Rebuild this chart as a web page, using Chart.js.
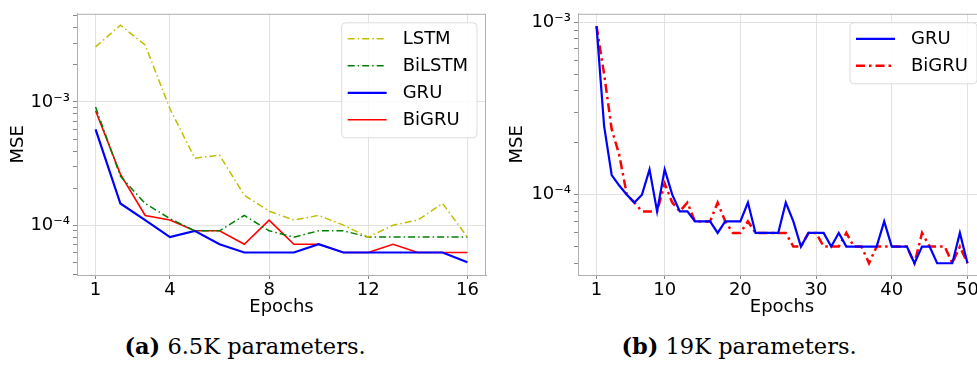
<!DOCTYPE html>
<html>
<head>
<meta charset="UTF-8">
<title>MSE per epoch</title>
<script src="https://cdn.jsdelivr.net/npm/chart.js"></script>
<style>
	body {
		margin: 0;
		width: 977px;
		height: 367px;
		overflow: hidden;
		position: relative;
		background: #fff;
	}

	.plot {
		position: absolute;
		top: 0;
	}

	#plotA { left: 0; }
	#plotB { left: 490px; }

	.caption {
		position: absolute;
		top: 333px;
		width: 400px;
		text-align: center;
		font-family: 'DejaVu Serif', serif;
		font-size: 22.5px;
		line-height: 26px;
		color: #000;
	}
</style>
</head>
<body>

<div class="plot" id="plotA"><canvas id="chartA" width="490" height="320"></canvas></div>
<div class="plot" id="plotB"><canvas id="chartB" width="500" height="320"></canvas></div>
<div class="caption" style="left:45px"><b>(a)</b> 6.5K parameters.</div>
<div class="caption" style="left:539px"><b>(b)</b> 19K parameters.</div>

<script>
// (a) 6.5K parameters
var epochsA = [1, 2, 3, 4, 5, 6, 7, 8, 9, 10, 11, 12, 13, 14, 15, 16];
var lstmA = [2.8e-3, 4.2e-3, 2.9e-3, 8.8e-4, 3.5e-4, 3.7e-4, 1.75e-4, 1.3e-4, 1.1e-4, 1.2e-4, 1.0e-4, 8e-5, 1.0e-4, 1.1e-4, 1.5e-4, 8e-5];
var bilstmA = [9.1e-4, 2.5e-4, 1.5e-4, 1.13e-4, 9e-5, 9e-5, 1.2e-4, 9e-5, 8e-5, 9e-5, 9e-5, 8e-5, 8e-5, 8e-5, 8e-5, 8e-5];
var gruA = [6e-4, 1.5e-4, 1.1e-4, 8e-5, 9e-5, 7e-5, 6e-5, 6e-5, 6e-5, 7e-5, 6e-5, 6e-5, 6e-5, 6e-5, 6e-5, 5e-5];
var bigruA = [8.5e-4, 2.6e-4, 1.2e-4, 1.1e-4, 9e-5, 9e-5, 7e-5, 1.1e-4, 7e-5, 7e-5, 6e-5, 6e-5, 7e-5, 6e-5, 6e-5, 6e-5];
var xTicksA = [1, 4, 8, 12, 16];

// (b) 19K parameters
var epochsB = [];
for (var i = 1; i <= 50; i++) epochsB.push(i);
var gruB = [9.5e-4, 2.5e-4, 1.3e-4, 1.13e-4, 1.0e-4, 9e-5, 1.0e-4, 1.4e-4, 8e-5, 1.4e-4,
	1.0e-4, 8e-5, 8e-5, 7e-5, 7e-5, 7e-5, 6e-5, 7e-5, 7e-5, 7e-5,
	9e-5, 6e-5, 6e-5, 6e-5, 6e-5, 9e-5, 7e-5, 5e-5, 6e-5, 6e-5,
	6e-5, 5e-5, 6e-5, 5e-5, 5e-5, 5e-5, 5e-5, 5e-5, 7e-5, 5e-5,
	5e-5, 5e-5, 4e-5, 5e-5, 5e-5, 4e-5, 4e-5, 4e-5, 6e-5, 4e-5];
var bigruB = [9.5e-4, 5.0e-4, 2.4e-4, 1.7e-4, 1.0e-4, 9e-5, 8e-5, 8e-5, 8e-5, 1.16e-4,
	9e-5, 8e-5, 9e-5, 7e-5, 7e-5, 7e-5, 9e-5, 7e-5, 6e-5, 6e-5,
	7e-5, 6e-5, 6e-5, 6e-5, 6e-5, 6e-5, 5e-5, 5e-5, 6e-5, 6e-5,
	5e-5, 5e-5, 5e-5, 6e-5, 5e-5, 5e-5, 4e-5, 5e-5, 5e-5, 5e-5,
	5e-5, 5e-5, 4e-5, 6e-5, 5e-5, 5e-5, 5e-5, 4e-5, 5e-5, 4e-5];
var xTicksB = [1, 10, 20, 30, 40, 50];

var yMajor = [1e-5, 1e-4, 1e-3, 1e-2];
var yLabels = { '-5': '10\u207B\u2075', '-4': '10\u207B\u2074', '-3': '10\u207B\u00B3', '-2': '10\u207B\u00B2' };

Chart.defaults.font.family = 'DejaVu Sans';
Chart.defaults.font.size = 18;
Chart.defaults.color = '#000';

function points(xs, ys) {
	return xs.map(function (x, i) { return { x: x, y: ys[i] }; });
}

function isMajor(v) {
	var e = Math.log10(v);
	return Math.abs(e - Math.round(e)) < 1e-6;
}

// legend box in the upper right corner of the plot, like matplotlib
var boxLegend = {
	id: 'boxLegend',
	afterDraw: function (chart) {
		var ctx = chart.ctx, area = chart.chartArea;
		var sets = chart.data.datasets;
		var handle = 39, gap = 16, padL = 6, padR = 9, rowH = 27, padT = 16;
		ctx.save();
		ctx.font = '18px DejaVu Sans';
		var tw = 0;
		sets.forEach(function (d) { tw = Math.max(tw, ctx.measureText(d.label).width); });
		var w = padL + handle + gap + tw + padR;
		var h = padT * 2 + rowH * (sets.length - 1) + 2;
		var x0 = area.right - 9 - w, y0 = area.top + 9;
		ctx.beginPath();
		ctx.roundRect(x0, y0, w, h, 4);
		ctx.fillStyle = 'rgba(255,255,255,0.85)';
		ctx.fill();
		ctx.strokeStyle = '#dcdcdc';
		ctx.lineWidth = 1;
		ctx.stroke();
		sets.forEach(function (d, i) {
			var cy = y0 + padT + i * rowH;
			ctx.beginPath();
			ctx.setLineDash(d.borderDash || []);
			ctx.strokeStyle = d.borderColor;
			ctx.lineWidth = d.borderWidth;
			ctx.moveTo(x0 + padL, cy);
			ctx.lineTo(x0 + padL + handle, cy);
			ctx.stroke();
			ctx.setLineDash([]);
			ctx.fillStyle = '#000';
			ctx.textBaseline = 'middle';
			ctx.fillText(d.label, x0 + padL + handle + gap, cy + 1);
		});
		ctx.restore();
	}
};

// full frame around the plot area
var frame = {
	id: 'frame',
	afterDatasetsDraw: function (chart) {
		var a = chart.chartArea, ctx = chart.ctx;
		ctx.save();
		ctx.strokeStyle = '#b0b0b0';
		ctx.lineWidth = 1;
		ctx.strokeRect(a.left + 0.5, a.top + 0.5, a.right - a.left - 1, a.bottom - a.top);
		ctx.restore();
	}
};

function makeChart(id, xs, sets, xMin, xMax, xTicks, yMin, yMax, yWidth, titlePad, padRight) {
	return new Chart(document.getElementById(id), {
		type: 'line',
		data: {
			datasets: sets.map(function (s) {
				return {
					label: s.label,
					data: points(xs, s.data),
					borderColor: s.color,
					borderWidth: s.width,
					borderDash: s.dash,
					pointRadius: 0,
					fill: false,
					tension: 0
				};
			})
		},
		options: {
			responsive: false,
			animation: false,
			layout: { padding: { left: 0, top: 8, right: padRight, bottom: 0 } },
			plugins: { legend: { display: false }, tooltip: { enabled: false } },
			scales: {
				x: {
					type: 'linear',
					min: xMin,
					max: xMax,
					afterBuildTicks: function (scale) {
						scale.ticks = xTicks.map(function (v) { return { value: v }; });
					},
					afterFit: function (scale) { scale.height = 45; },
					ticks: { autoSkip: false, maxRotation: 0, padding: 1, color: '#000' },
					grid: { color: '#e2e2e2', tickColor: '#888', tickLength: 4 },
					border: { color: '#b0b0b0' },
					title: { display: true, text: 'Epochs', padding: { top: 0, bottom: 2 } }
				},
				y: {
					type: 'logarithmic',
					min: yMin,
					max: yMax,
					afterBuildTicks: function (scale) {
						var t = [];
						yMajor.forEach(function (d) {
							for (var k = 1; k <= 9; k++) {
								var v = k * d;
								if (v >= yMin && v <= yMax) t.push({ value: v });
							}
						});
						scale.ticks = t;
					},
					afterFit: function (scale) { scale.width = yWidth; },
					ticks: {
						autoSkip: false,
						padding: 3,
						color: '#000',
						callback: function (v) {
							return isMajor(v) ? yLabels[String(Math.round(Math.log10(v)))] : '';
						}
					},
					grid: {
						color: function (c) { return c.tick && isMajor(c.tick.value) ? '#e2e2e2' : 'rgba(0,0,0,0)'; },
						tickColor: '#888',
						tickLength: 4
					},
					border: { color: '#b0b0b0' },
					title: { display: true, text: 'MSE', padding: { top: titlePad, bottom: 0 } }
				}
			}
		},
		plugins: [frame, boxLegend]
	});
}

makeChart('chartA', epochsA, [
	{ label: 'LSTM', data: lstmA, color: '#bfbf00', width: 1.5, dash: [7, 3, 1.5, 3] },
	{ label: 'BiLSTM', data: bilstmA, color: '#008000', width: 1.5, dash: [7, 3, 1.5, 3] },
	{ label: 'GRU', data: gruA, color: '#0000ff', width: 2.2, dash: [] },
	{ label: 'BiGRU', data: bigruA, color: '#ff0000', width: 1.6, dash: [] }
], 0.25, 16.75, xTicksA, 3.94e-5, 5.2e-3, 77, 8, 4);

makeChart('chartB', epochsB, [
	{ label: 'GRU', data: gruB, color: '#0000ff', width: 2.2, dash: [] },
	{ label: 'BiGRU', data: bigruB, color: '#ff0000', width: 2.5, dash: [9, 4, 2.5, 4] }
], -1.45, 52.45, xTicksB, 3.42e-5, 1.12e-3, 88, 17, 4);
</script>
</body>
</html>
